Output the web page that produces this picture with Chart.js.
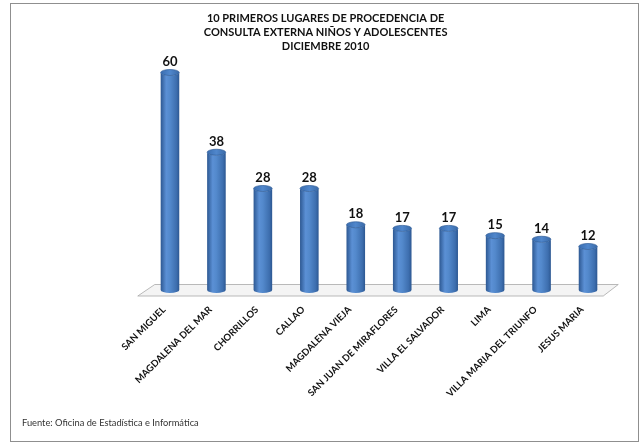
<!DOCTYPE html>
<html>
<head>
<meta charset="utf-8">
<script src="https://cdn.jsdelivr.net/npm/chart.js@4"></script>
<style>
  html, body { margin: 0; padding: 0; background: #ffffff; }
  canvas { display: block; }
</style>
</head>
<body>
<canvas id="c" width="640" height="443"></canvas>
<script>
const categories = ['SAN MIGUEL', 'MAGDALENA DEL MAR', 'CHORRILLOS', 'CALLAO', 'MAGDALENA VIEJA',
  'SAN JUAN DE MIRAFLORES', 'VILLA EL SALVADOR', 'LIMA', 'VILLA MARIA DEL TRIUNFO', 'JESUS MARIA'];
const values = [60, 38, 28, 28, 18, 17, 17, 15, 14, 12];
const titleLines = ['10 PRIMEROS LUGARES DE PROCEDENCIA DE', 'CONSULTA EXTERNA NIÑOS Y ADOLESCENTES', 'DICIEMBRE 2010'];
const sourceNote = 'Fuente: Oficina de Estadística e Informática';
const yMin = 0;
const yMax = 65;

const cylinderPlugin = {
  id: 'cylinders',
  beforeDatasetsDraw(chart) {
    const ctx = chart.ctx;
    const area = chart.chartArea;
    const base = chart.scales.y.getPixelForValue(0);
    ctx.save();
    ctx.beginPath();
    ctx.moveTo(area.left + 8, base - 5.5);
    ctx.lineTo(area.right + 7, base - 5.5);
    ctx.lineTo(area.right - 8, base + 6);
    ctx.lineTo(area.left - 9, base + 6);
    ctx.closePath();
    ctx.fillStyle = '#f4f4f4';
    ctx.fill();
    ctx.strokeStyle = '#a8a8a8';
    ctx.lineWidth = 0.8;
    ctx.stroke();
    ctx.restore();
  },
  afterDatasetsDraw(chart) {
    const ctx = chart.ctx;
    const meta = chart.getDatasetMeta(0);
    const ds = chart.data.datasets[0];
    ctx.save();
    meta.data.forEach((el, i) => {
      const p = el.getProps(['x', 'y', 'base', 'width'], true);
      const rx = p.width / 2;
      const ry = 3;
      const x = p.x, top = p.y, bot = p.base;
      const g = ctx.createLinearGradient(x - rx, 0, x + rx, 0);
      g.addColorStop(0, '#2d5892');
      g.addColorStop(0.3, '#5b90d5');
      g.addColorStop(0.5, '#5389cc');
      g.addColorStop(0.85, '#3d6eae');
      g.addColorStop(1, '#2c5791');
      ctx.beginPath();
      ctx.moveTo(x - rx, top);
      ctx.lineTo(x - rx, bot);
      ctx.ellipse(x, bot, rx, ry, 0, Math.PI, 0, true);
      ctx.lineTo(x + rx, top);
      ctx.ellipse(x, top, rx, ry, 0, 0, Math.PI, false);
      ctx.closePath();
      ctx.fillStyle = g;
      ctx.fill();
      const gt = ctx.createLinearGradient(x - rx, 0, x + rx, 0);
      gt.addColorStop(0, '#3a6db0');
      gt.addColorStop(0.5, '#5087cc');
      gt.addColorStop(1, '#3a6aa8');
      ctx.beginPath();
      ctx.ellipse(x, top, rx, ry, 0, 0, Math.PI * 2);
      ctx.fillStyle = gt;
      ctx.fill();
      ctx.strokeStyle = '#2c5a96';
      ctx.lineWidth = 0.7;
      ctx.stroke();
      ctx.fillStyle = '#111111';
      ctx.font = 'bold 13px Lato';
      ctx.textAlign = 'center';
      ctx.textBaseline = 'middle';
      ctx.fillText(String(ds.data[i]), x, top - 10.5);
    });
    ctx.restore();
  },
  afterDraw(chart) {
    const ctx = chart.ctx;
    ctx.save();
    ctx.fillStyle = '#333333';
    ctx.font = '9.3px Lato';
    ctx.textAlign = 'left';
    ctx.textBaseline = 'middle';
    ctx.fillText(sourceNote, 22, 423);
    ctx.strokeStyle = '#8f8f8f';
    ctx.lineWidth = 1;
    ctx.strokeRect(10.5, 3.5, 628, 438);
    ctx.restore();
  }
};

new Chart(document.getElementById('c'), {
  type: 'bar',
  data: {
    labels: categories,
    datasets: [{
      data: values,
      backgroundColor: 'rgba(0,0,0,0)',
      borderWidth: 0,
      barPercentage: 0.4,
      categoryPercentage: 1
    }]
  },
  options: {
    responsive: false,
    devicePixelRatio: 1,
    animation: false,
    events: [],
    layout: { padding: { left: 40, right: 28.75, top: 11, bottom: 28 } },
    plugins: {
      legend: { display: false },
      tooltip: { enabled: false },
      title: {
        display: true,
        text: titleLines,
        color: '#111111',
        font: { family: 'Lato', size: 11, weight: 'bold', lineHeight: 14 / 11 },
        padding: { top: 0, bottom: 1.4 }
      }
    },
    scales: {
      x: {
        grid: { display: false, drawTicks: false },
        border: { display: false },
        ticks: {
          autoSkip: false,
          maxRotation: 45,
          minRotation: 45,
          padding: 14,
          labelOffset: -6,
          color: '#111111',
          font: { family: 'Lato', size: 9.5, weight: 'bold' }
        },
        afterFit(scale) { scale.height = 125; }
      },
      y: {
        min: yMin,
        max: yMax,
        grid: { display: false, drawTicks: false },
        border: { display: false },
        ticks: { display: false },
        afterFit(scale) { scale.width = 106.75; }
      }
    }
  },
  plugins: [cylinderPlugin]
});
</script>
</body>
</html>
